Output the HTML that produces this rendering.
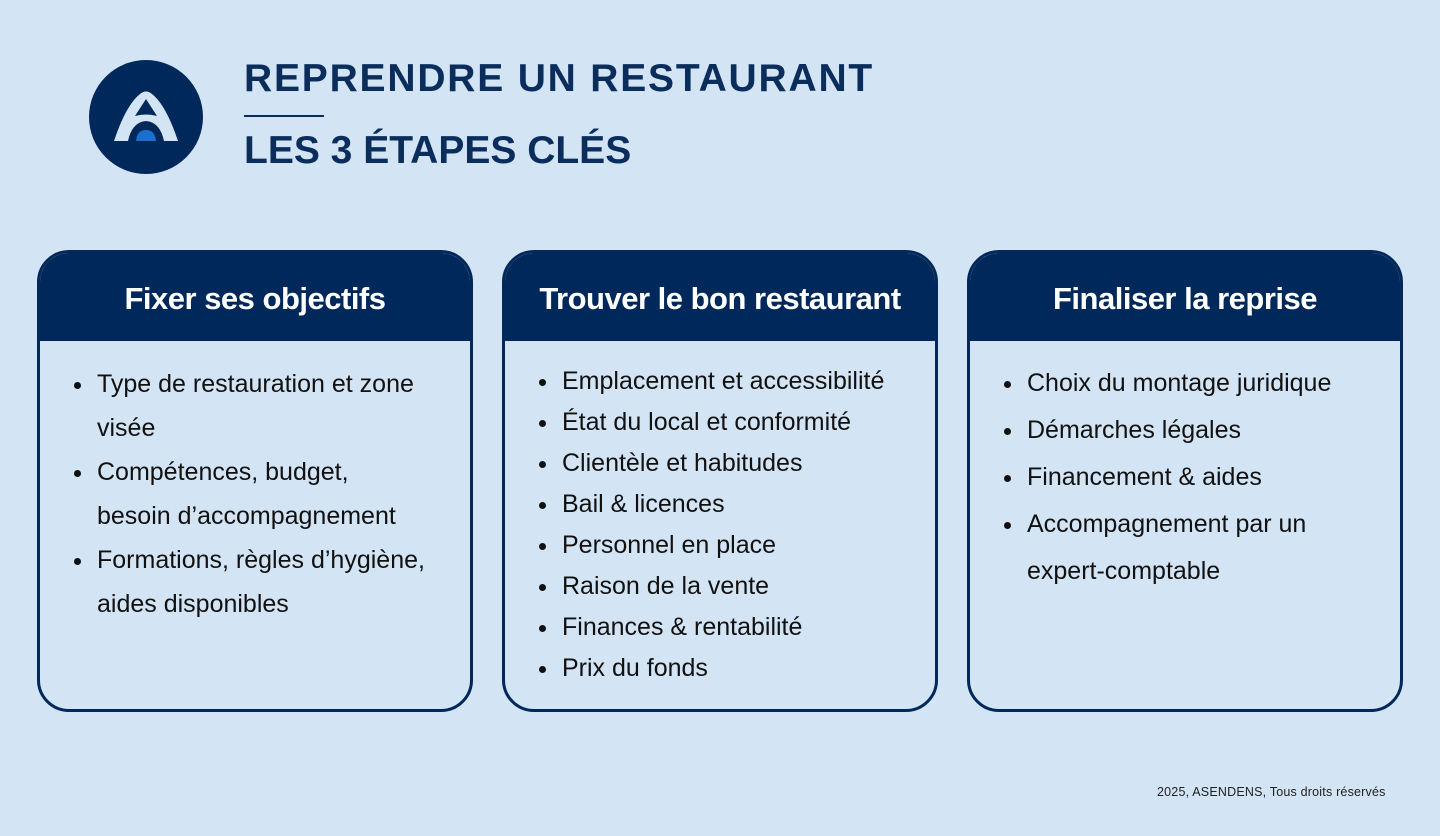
<!DOCTYPE html>
<html><head><meta charset="utf-8"><style>
body{margin:0;width:1440px;height:836px;background:#d3e4f4;font-family:"Liberation Sans",sans-serif;position:relative;overflow:hidden;color:#111}
.t{position:absolute;left:244px;color:#0a2d5c;font-weight:bold;font-size:39px;letter-spacing:1.8px}
.card{position:absolute;top:250px;width:430px;height:456px;border:3px solid #00285a;border-radius:32px;overflow:hidden;background:#d3e4f4}
.hd{height:88px;background:#00285a;color:#fff;font-weight:bold;font-size:31px;text-align:center;line-height:92px;letter-spacing:-0.5px}
ul{margin:0;padding:0 0 0 55px;font-size:25px;position:absolute;top:0;white-space:nowrap}
li{padding-left:2px}
.ft{position:absolute;left:1157px;top:785px;font-size:12.5px;color:#222;letter-spacing:0.2px}
</style></head><body>
<svg style="position:absolute;left:88px;top:59px" width="116" height="116" viewBox="0 0 116 116">
<circle cx="58" cy="58" r="57" fill="#00285a"/>
<path d="M26 82 Q38 46 52 35 Q58 30 64 35 Q78 46 90 82 L76 82 Q72 63 58 62 Q44 63 40 82 Z" fill="#d3e4f4"/>
<path d="M47 57 L58 40 L69 57 Q58 54 47 57Z" fill="#00285a"/>
<path d="M48 82 Q49 71 58 71 Q67 71 68 82Z" fill="#1a6fcf"/>
</svg>
<div class="t" style="top:57px">REPRENDRE UN RESTAURANT</div>
<div style="position:absolute;left:244px;top:115px;width:80px;height:2px;background:#0a2d5c"></div>
<div class="t" style="top:129px;letter-spacing:0px">LES 3 ÉTAPES CLÉS</div>

<div class="card" style="left:37px"><div class="hd">Fixer ses objectifs</div>
<ul style="top:109px;line-height:44px"><li>Type de restauration et zone<br>visée</li><li>Compétences, budget,<br>besoin d’accompagnement</li><li>Formations, règles d’hygiène,<br>aides disponibles</li></ul></div>

<div class="card" style="left:502px"><div class="hd">Trouver le bon restaurant</div>
<ul style="top:108px;line-height:41px"><li>Emplacement et accessibilité</li><li>État du local et conformité</li><li>Clientèle et habitudes</li><li>Bail &amp; licences</li><li>Personnel en place</li><li>Raison de la vente</li><li>Finances &amp; rentabilité</li><li>Prix du fonds</li></ul></div>

<div class="card" style="left:967px"><div class="hd">Finaliser la reprise</div>
<ul style="top:107px;line-height:47px"><li>Choix du montage juridique</li><li>Démarches légales</li><li>Financement &amp; aides</li><li>Accompagnement par un<br>expert-comptable</li></ul></div>

<div class="ft">2025, ASENDENS, Tous droits réservés</div>
</body></html>
